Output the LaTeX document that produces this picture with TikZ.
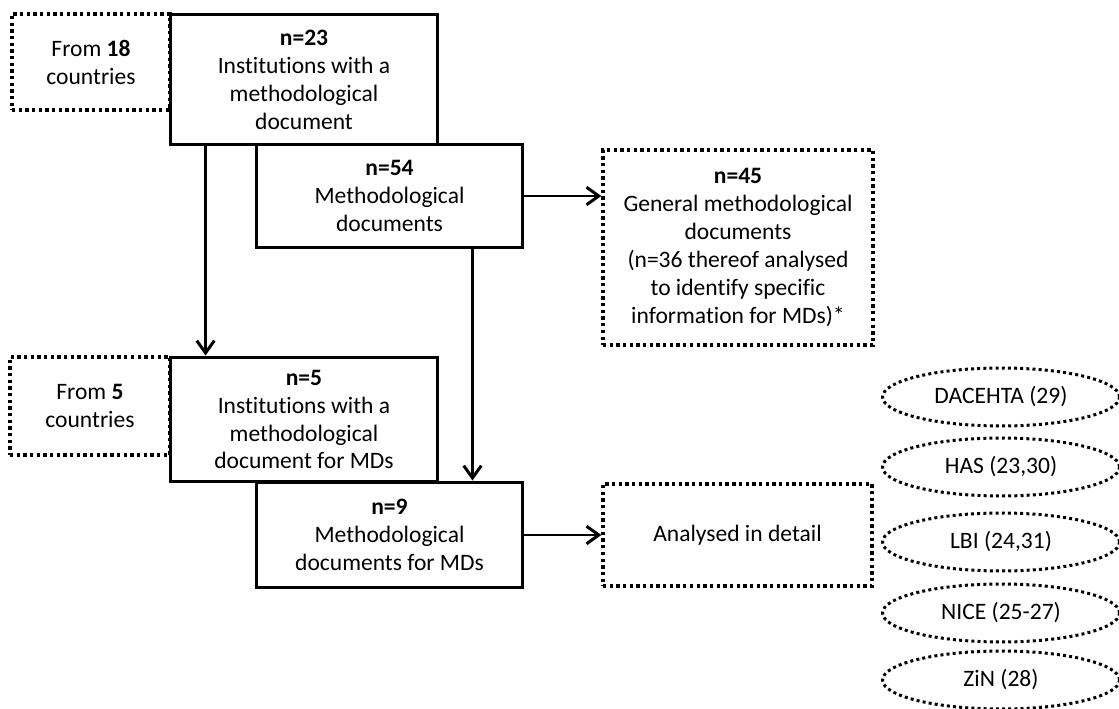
\documentclass[tikz,border=0pt]{standalone}
\usepackage{fontspec}
\setmainfont{Carlito}[Ligatures=NoCommon]
\usetikzlibrary{arrows.meta,shapes.geometric}
\tikzset{solidbox/.style = {draw, line width=1.7pt, align=center, inner sep=0pt, fill=white},
         dotbox/.style = {draw, line width=1.9pt, dash pattern=on 1.9pt off 1.9pt, align=center, inner sep=0pt},
         dotoval/.style = {ellipse, draw, line width=1.7pt, dash pattern=on 1.7pt off 1.8pt,
                           minimum width=4.74cm, minimum height=1.16cm, inner sep=0pt},
         arr/.style = {line width=1.7pt, -{Straight Barb[length=7pt,width=10pt]}}}
\begin{document}
\begin{tikzpicture}[x=0.02cm, y=-0.02cm, font=\fontsize{13.4}{15.9}\selectfont]
    \useasboundingbox (0,0) rectangle (1119,709);
    % countries
    \node[dotbox, minimum width=3.16cm, minimum height=1.92cm] (from18) at (91,62) {From \textbf{18}\\countries};
    \node[dotbox, minimum width=3.20cm, minimum height=1.96cm] (from5) at (90,406) {From \textbf{5}\\countries};
    % main boxes
    \node[solidbox, minimum width=5.36cm, minimum height=2.62cm] (inst) at (304,79.5)
        {\textbf{n=23}\\Institutions with a\\methodological\\document};
    \node[solidbox, minimum width=5.34cm, minimum height=2.08cm] (docs) at (389.5,196)
        {\textbf{n=54}\\Methodological\\documents};
    \node[dotbox, minimum width=5.40cm, minimum height=3.90cm] (general) at (738,247.5)
        {\textbf{n=45}\\General methodological\\documents\\(n=36 thereof analysed\\to identify specific\\information for MDs)*};
    \node[solidbox, minimum width=5.36cm, minimum height=2.50cm] (instmd) at (304,419.5)
        {\textbf{n=5}\\Institutions with a\\methodological\\document for MDs};
    \node[solidbox, minimum width=5.34cm, minimum height=2.12cm] (docsmd) at (389.5,535)
        {\textbf{n=9}\\Methodological\\documents for MDs};
    \node[dotbox, minimum width=5.38cm, minimum height=2.04cm] (detail) at (737.5,535) {Analysed in detail};
    % agencies
    \node[dotoval] (dacehta) at (1001,397) {DACEHTA (29)};
    \node[dotoval] (has) at (1001,467) {HAS (23,30)};
    \node[dotoval] (lbi) at (1001,542) {LBI (24,31)};
    \node[dotoval] (nice) at (1001,613) {NICE (25-27)};
    \node[dotoval] (zin) at (1001,680) {ZiN (28)};
    % arrows
    \draw[arr] ([xshift=0.74cm]inst.south west) -- ([xshift=0.74cm]inst.south west |- instmd.north);
    \draw[arr] ([xshift=4.36cm]docs.south west) -- ([xshift=4.36cm]docs.south west |- docsmd.north);
    \draw[arr] (docs.east) -- (docs.east -| general.west);
    \draw[arr] (docsmd.east) -- (detail.west);
\end{tikzpicture}
\end{document}
